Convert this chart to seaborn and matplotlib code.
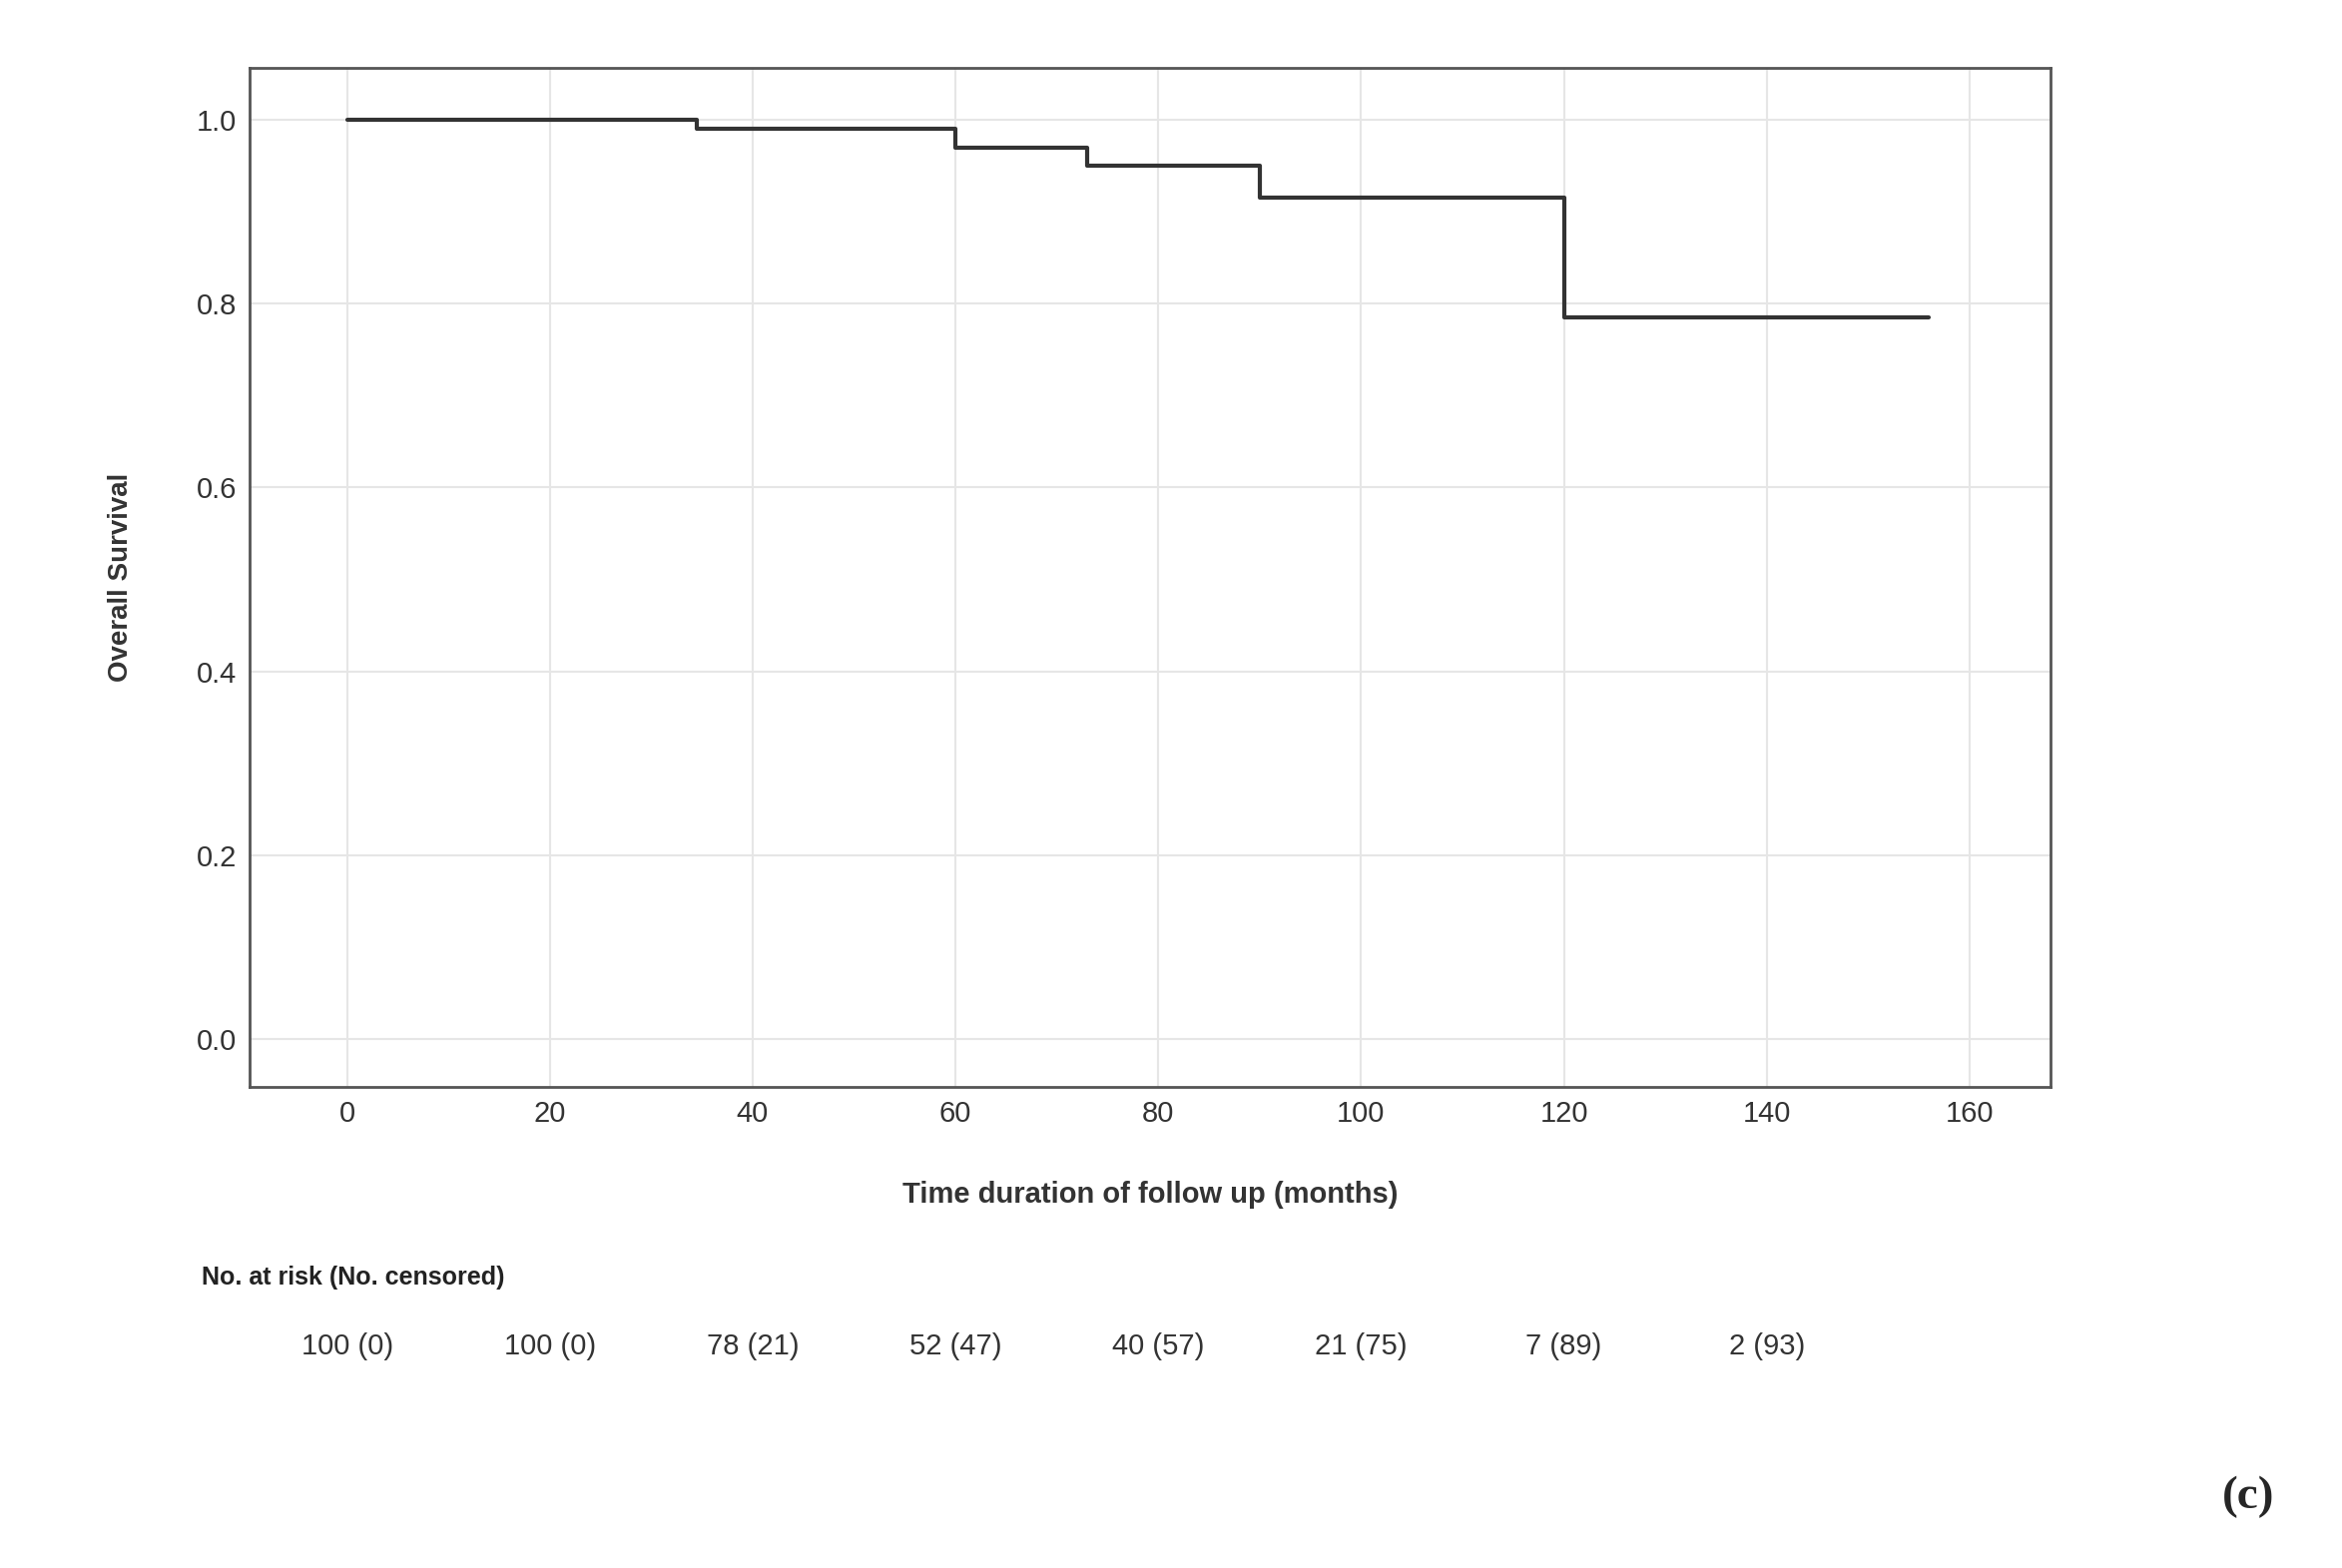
import matplotlib
matplotlib.use("Agg")
import matplotlib.pyplot as plt
import matplotlib.transforms as mtransforms
import seaborn as sns
import pandas as pd

sns.set_theme(style="whitegrid")
plt.rcParams['font.family'] = ['Liberation Sans', 'DejaVu Sans']

step_time = [0, 34.5, 60, 73, 90, 120, 156]
step_surv = [1.0, 0.99, 0.97, 0.95, 0.915, 0.785, 0.785]
risk_times = [0, 20, 40, 60, 80, 100, 120, 140]
risk_labels = ["100 (0)", "100 (0)", "78 (21)", "52 (47)", "40 (57)", "21 (75)", "7 (89)", "2 (93)"]
xticks = [0, 20, 40, 60, 80, 100, 120, 140, 160]
yticks = [0.0, 0.2, 0.4, 0.6, 0.8, 1.0]

df = pd.DataFrame({"time": step_time, "surv": step_surv})

fig = plt.figure(figsize=(23.46, 15.71), dpi=100)
ax = fig.add_axes([0.1066, 0.307, 0.769, 0.650])
sns.lineplot(data=df, x="time", y="surv", drawstyle="steps-post", color="#333333", linewidth=3, ax=ax)
ax.set_xlim(-9.6, 168)
ax.set_ylim(-0.052, 1.057)
ax.set_xticks(xticks)
ax.set_yticks(yticks)
ax.set_yticklabels([f"{v:.1f}" for v in yticks])
ax.tick_params(labelsize=21, colors="#333333")
ax.grid(True, color="#e6e6e6", linewidth=1.5)
for s in ax.spines.values():
    s.set_color("#555555"); s.set_linewidth(2)
ax.set_xlabel("Time duration of follow up (months)", fontsize=21, fontweight="bold", color="#333333", labelpad=38)
ax.set_ylabel("Overall Survival", fontsize=20, fontweight="bold", color="#333333", labelpad=45)

trans = mtransforms.blended_transform_factory(ax.transData, fig.transFigure)
fig.text(0.086, 0.185, "No. at risk (No. censored)", fontsize=18, fontweight="bold", color="#222222", va="center")
for t, lab in zip(risk_times, risk_labels):
    ax.text(t, 0.141, lab, transform=trans, ha="center", va="center", fontsize=21, color="#333333")
fig.text(0.96, 0.045, "(c)", fontsize=34, fontweight="bold", family=["Liberation Serif", "DejaVu Serif"], ha="center", va="center")

fig.savefig("out.png", dpi=100)
